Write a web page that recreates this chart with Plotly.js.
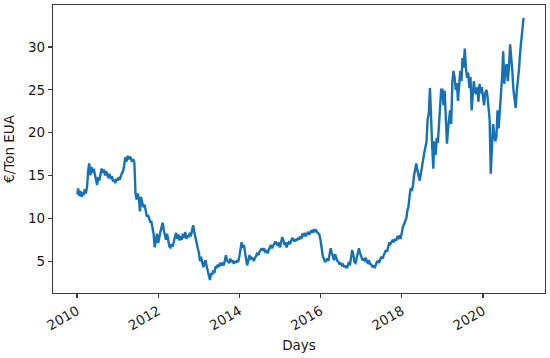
<!DOCTYPE html>
<html>
<head>
<meta charset="utf-8">
<script src="https://cdn.plot.ly/plotly-3.0.1.min.js"></script>
<style>html,body{margin:0;padding:0;background:#fff;}#chart{width:550px;height:358px;}</style>
</head>
<body>
<div id="chart"></div>
<script>
const dates = [
'2010-01-04','2010-01-11','2010-01-21','2010-02-01','2010-02-11','2010-02-21','2010-03-01','2010-03-11','2010-03-21','2010-04-01','2010-04-11','2010-04-21',
'2010-05-01','2010-05-11','2010-05-21','2010-06-01','2010-06-11','2010-06-21','2010-07-01','2010-07-11','2010-07-21','2010-08-01','2010-08-11','2010-08-21',
'2010-09-01','2010-09-11','2010-09-21','2010-10-01','2010-10-11','2010-10-21','2010-11-01','2010-11-11','2010-11-21','2010-12-01','2010-12-11','2010-12-21',
'2011-01-01','2011-01-11','2011-01-21','2011-02-01','2011-02-11','2011-02-21','2011-03-01','2011-03-11','2011-03-21','2011-04-01','2011-04-11','2011-04-21',
'2011-05-01','2011-05-11','2011-05-21','2011-06-01','2011-06-11','2011-06-21','2011-07-01','2011-07-11','2011-07-21','2011-08-01','2011-08-11','2011-08-21',
'2011-09-01','2011-09-11','2011-09-21','2011-10-01','2011-10-11','2011-10-21','2011-11-01','2011-11-11','2011-11-21','2011-12-01','2011-12-11','2011-12-21',
'2012-01-01','2012-01-11','2012-01-21','2012-02-01','2012-02-11','2012-02-21','2012-03-01','2012-03-11','2012-03-21','2012-04-01','2012-04-11','2012-04-21',
'2012-05-01','2012-05-11','2012-05-21','2012-06-01','2012-06-11','2012-06-21','2012-07-01','2012-07-11','2012-07-21','2012-08-01','2012-08-11','2012-08-21',
'2012-09-01','2012-09-11','2012-09-21','2012-10-01','2012-10-11','2012-10-21','2012-11-01','2012-11-11','2012-11-21','2012-12-01','2012-12-11','2012-12-21',
'2013-01-01','2013-01-11','2013-01-21','2013-02-01','2013-02-11','2013-02-21','2013-03-01','2013-03-11','2013-03-21','2013-04-01','2013-04-11','2013-04-21',
'2013-05-01','2013-05-11','2013-05-21','2013-06-01','2013-06-11','2013-06-21','2013-07-01','2013-07-11','2013-07-21','2013-08-01','2013-08-11','2013-08-21',
'2013-09-01','2013-09-11','2013-09-21','2013-10-01','2013-10-11','2013-10-21','2013-11-01','2013-11-11','2013-11-21','2013-12-01','2013-12-11','2013-12-21',
'2014-01-01','2014-01-11','2014-01-21','2014-02-01','2014-02-11','2014-02-21','2014-03-01','2014-03-11','2014-03-21','2014-04-01','2014-04-11','2014-04-21',
'2014-05-01','2014-05-11','2014-05-21','2014-06-01','2014-06-11','2014-06-21','2014-07-01','2014-07-11','2014-07-21','2014-08-01','2014-08-11','2014-08-21',
'2014-09-01','2014-09-11','2014-09-21','2014-10-01','2014-10-11','2014-10-21','2014-11-01','2014-11-11','2014-11-21','2014-12-01','2014-12-11','2014-12-21',
'2015-01-01','2015-01-11','2015-01-21','2015-02-01','2015-02-11','2015-02-21','2015-03-01','2015-03-11','2015-03-21','2015-04-01','2015-04-11','2015-04-21',
'2015-05-01','2015-05-11','2015-05-21','2015-06-01','2015-06-11','2015-06-21','2015-07-01','2015-07-11','2015-07-21','2015-08-01','2015-08-11','2015-08-21',
'2015-09-01','2015-09-11','2015-09-21','2015-10-01','2015-10-11','2015-10-21','2015-11-01','2015-11-11','2015-11-21','2015-12-01','2015-12-11','2015-12-21',
'2016-01-01','2016-01-11','2016-01-21','2016-02-01','2016-02-11','2016-02-21','2016-03-01','2016-03-11','2016-03-21','2016-04-01','2016-04-11','2016-04-21',
'2016-05-01','2016-05-11','2016-05-21','2016-06-01','2016-06-11','2016-06-21','2016-07-01','2016-07-11','2016-07-21','2016-08-01','2016-08-11','2016-08-21',
'2016-09-01','2016-09-11','2016-09-21','2016-10-01','2016-10-11','2016-10-21','2016-11-01','2016-11-11','2016-11-21','2016-12-01','2016-12-11','2016-12-21',
'2017-01-01','2017-01-11','2017-01-21','2017-02-01','2017-02-11','2017-02-21','2017-03-01','2017-03-11','2017-03-21','2017-04-01','2017-04-11','2017-04-21',
'2017-05-01','2017-05-11','2017-05-21','2017-06-01','2017-06-11','2017-06-21','2017-07-01','2017-07-11','2017-07-21','2017-08-01','2017-08-11','2017-08-21',
'2017-09-01','2017-09-11','2017-09-21','2017-10-01','2017-10-11','2017-10-21','2017-11-01','2017-11-11','2017-11-21','2017-12-01','2017-12-11','2017-12-21',
'2018-01-01','2018-01-11','2018-01-21','2018-02-01','2018-02-11','2018-02-21','2018-03-01','2018-03-11','2018-03-21','2018-04-01','2018-04-11','2018-04-21',
'2018-05-01','2018-05-11','2018-05-21','2018-06-01','2018-06-11','2018-06-21','2018-07-01','2018-07-11','2018-07-21','2018-08-01','2018-08-11','2018-08-21',
'2018-09-01','2018-09-11','2018-09-21','2018-10-01','2018-10-11','2018-10-21','2018-11-01','2018-11-11','2018-11-21','2018-12-01','2018-12-11','2018-12-21',
'2019-01-01','2019-01-11','2019-01-21','2019-02-01','2019-02-11','2019-02-21','2019-03-01','2019-03-11','2019-03-21','2019-04-01','2019-04-11','2019-04-21',
'2019-05-01','2019-05-11','2019-05-21','2019-06-01','2019-06-11','2019-06-21','2019-07-01','2019-07-11','2019-07-21','2019-08-01','2019-08-11','2019-08-21',
'2019-09-01','2019-09-11','2019-09-21','2019-10-01','2019-10-11','2019-10-21','2019-11-01','2019-11-11','2019-11-21','2019-12-01','2019-12-11','2019-12-21',
'2020-01-01','2020-01-11','2020-01-21','2020-02-01','2020-02-11','2020-02-21','2020-03-01','2020-03-11','2020-03-21','2020-04-01','2020-04-11','2020-04-21',
'2020-05-01','2020-05-11','2020-05-21','2020-06-01','2020-06-11','2020-06-21','2020-07-01','2020-07-11','2020-07-21','2020-08-01','2020-08-11','2020-08-21',
'2020-09-01','2020-09-11','2020-09-21','2020-10-01','2020-10-11','2020-10-21','2020-11-01','2020-11-11','2020-11-21','2020-12-01','2020-12-11','2020-12-21',
'2020-12-31'
];

const prices = [
12.8,13.5,12.6, 13.2,12.5,13.0, 12.7,13.4,12.9, 13.6,15.5,16.4,
15.0,16.0,15.3, 15.8,15.1,14.6, 13.9,14.8,14.4, 15.2,15.8,15.3,
15.7,15.0,15.5, 15.1,14.7,15.2, 14.6,14.9,14.3, 14.5,14.1,14.6,
14.4,14.8,14.5, 15.0,15.3,15.6, 16.2,17.1,16.6, 17.3,16.9,17.2,
17.0,16.6,16.9, 16.5,13.0,12.2, 12.9,12.4,10.8, 12.5,11.8,11.3,
11.6,10.8,10.2, 10.4,9.9,9.6, 9.6,9.0,8.2, 6.6,7.4,8.2,
7.1,7.6,8.4, 9.0,9.5,8.6, 8.0,7.5,8.2, 7.2,6.7,6.6,
7.0,6.7,7.4, 7.9,8.3,7.6, 8.1,7.4,7.9, 7.5,8.2,7.7,
8.4,7.6,8.0, 7.8,8.3,7.9, 8.6,9.2,8.4, 7.6,7.2,6.6,
6.0,5.0,5.5, 4.8,4.3,4.8, 5.1,4.5,3.9, 3.2,2.8,3.6,
3.4,3.9,3.6, 4.4,4.2,4.6, 4.3,4.8,4.5, 4.7,4.5,4.9,
5.7,5.1,4.9, 4.8,5.3,4.9, 5.1,4.7,5.0, 4.8,5.1,4.9,
5.6,6.4,7.2, 6.6,6.9,6.0, 5.2,4.5,5.0, 5.7,5.2,5.4,
5.3,5.0,5.4, 5.6,6.0,5.7, 6.1,6.3,6.5, 6.2,6.5,6.0,
6.3,5.9,6.4, 6.6,6.9,6.5, 6.8,7.1,7.3, 7.0,6.8,7.2,
6.6,7.2,7.8, 7.4,6.9,7.2, 6.6,7.0,7.2, 7.0,7.4,7.7,
7.5,7.3,7.6, 7.4,7.7,7.5, 7.9,7.6,8.1, 8.0,8.3,7.9,
8.2,8.4,8.1, 8.4,8.6,8.3, 8.7,8.5,8.6, 8.4,8.3,8.1,
7.4,6.4,5.6, 5.2,4.9,5.1, 5.3,5.0,5.6, 6.5,6.0,5.5,
5.1,5.8,5.3, 5.0,4.9,4.6, 4.8,4.5,4.6, 4.3,4.5,4.2,
4.4,4.9,4.5, 5.5,6.3,5.8, 4.9,4.8,5.4, 5.8,6.5,5.9,
5.6,5.1,5.3, 5.0,5.4,4.9, 4.8,5.1,4.7, 4.6,4.3,4.5,
4.2,4.5,4.9, 5.0,4.8,5.2, 5.5,5.3,5.7, 5.9,6.3,6.1,
6.8,7.2,7.0, 7.3,7.5,7.2, 7.6,7.4,7.8, 7.7,8.0,7.6,
8.5,9.0,9.3, 9.6,10.0,11.0, 11.3,12.5,13.5, 13.2,13.8,15.0,
15.8,16.4,15.6, 15.0,14.4,15.2, 16.2,17.1,17.6, 18.3,18.9,21.5,
22.3,25.2,21.0, 18.5,15.8,19.0, 17.4,19.4,18.8, 20.8,23.5,25.0,
25.0,23.2,24.9, 21.0,18.7,20.5, 21.8,22.6,21.0, 26.0,27.2,26.4,
25.0,25.8,23.7, 25.5,27.2,26.0, 28.7,27.6,29.8, 27.5,26.4,27.0,
25.2,26.5,22.6, 24.4,26.0,24.8, 24.5,25.3,23.6, 25.7,24.6,25.3,
24.0,23.2,24.6, 25.0,24.2,23.0, 21.5,15.2,17.5, 21.0,19.8,19.0,
19.5,22.6,20.5, 22.5,25.5,26.5, 29.5,25.7,27.5, 28.0,26.0,27.4,
30.3,28.0,27.2, 25.0,24.0,22.9, 25.0,26.0,27.5, 29.5,31.0,31.9,
33.4
];

const xTickYears = ['2010','2012','2014','2016','2018','2020'];
const yTicks = [5, 10, 15, 20, 25, 30];
const xTitle = 'Days';
const yTitle = '€/Ton EUA';

const font = {family: 'DejaVu Sans, sans-serif', size: 13.5, color: '#1a1a1a'};

const trace = {
  x: dates, y: prices, type: 'scatter', mode: 'lines',
  line: {color: '#1672b5', width: 2.4}, hoverinfo: 'skip'
};

const axisCommon = {
  showgrid: false, zeroline: false, showline: true, mirror: true,
  linecolor: '#3a3a3a', linewidth: 1.2,
  ticks: 'outside', ticklen: 4, tickwidth: 1.2, tickcolor: '#3a3a3a',
  tickfont: font
};

const layout = {
  width: 550, height: 358,
  margin: {l: 53, r: 5, t: 5, b: 65},
  paper_bgcolor: '#ffffff', plot_bgcolor: '#ffffff',
  showlegend: false,
  font: font,
  xaxis: Object.assign({}, axisCommon, {
    type: 'date',
    range: ['2009-05-30', '2021-07-12'],
    tickvals: xTickYears.map(y => y + '-01-01'),
    ticktext: xTickYears,
    tickangle: -30,
    title: {text: xTitle, font: font, standoff: 8}
  }),
  yaxis: Object.assign({}, axisCommon, {
    range: [1.28, 34.9],
    tickvals: yTicks,
    ticktext: yTicks.map(String),
    title: {text: yTitle, font: font, standoff: 10}
  })
};

Plotly.newPlot('chart', [trace], layout, {displayModeBar: false, staticPlot: true});
</script>
</body>
</html>
